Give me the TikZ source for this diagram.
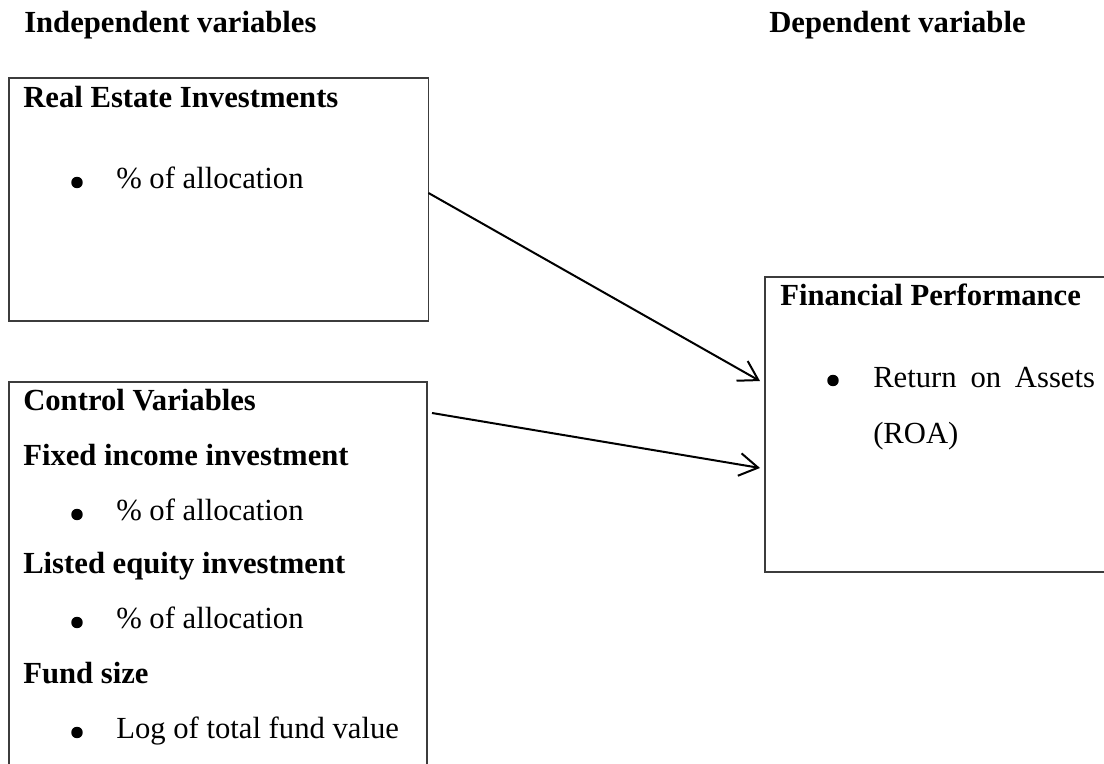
\documentclass[tikz,border=0pt]{standalone}
\usepackage{fontspec}
\setmainfont{Liberation Serif}
\usepackage{xcolor}
\usepackage{tikz}
\usetikzlibrary{arrows.meta, positioning}
\definecolor{framegray}{RGB}{60,60,60}

\begin{document}
\begin{tikzpicture}[
  x=0.75pt, y=-0.75pt,
  font=\fontsize{23}{28}\selectfont,
  box/.style={rectangle, draw=framegray, line width=1pt, anchor=north west,
              inner sep=0pt, outer sep=0pt},
  head/.style={anchor=base west, inner sep=0pt, font=\fontsize{23}{28}\selectfont\bfseries},
  txt/.style={anchor=base west, inner sep=0pt},
  dot/.style={circle, fill=black, inner sep=0pt, minimum size=8.6pt},
  arrow/.style={-{Straight Barb[length=14pt,width=17pt]}, line width=1.5pt, black}
]
\useasboundingbox (0,0) rectangle (1104,764);
\clip (0,0) rectangle (1104,764);

% column titles
\node[head] (indep) at (24,32) {Independent variables};
\node[head] (dep) at (769,32) {Dependent variable};

% boxes
\node[box, minimum width=314.6pt, minimum height=182.25pt] (re) at (9,78) {};
\node[box, minimum width=313.5pt, minimum height=313.5pt] (ctrl) at (9,382) {};
\node[box, minimum width=266.25pt, minimum height=221.25pt] (perf) at (765,277) {};

% real estate
\node[head] (reT) at (23,107) {Real Estate Investments};
\node[dot] (reB) at (77,182.5) {};
\node[txt] (reI) at (116,188) {\% of allocation};

% control variables
\node[head] (cvT) at (23,410) {Control Variables};
\node[head] (fiT) at (23,465) {Fixed income investment};
\node[dot] (fiB) at (77,514.5) {};
\node[txt] (fiI) at (116,520) {\% of allocation};
\node[head] (leT) at (23,573) {Listed equity investment};
\node[dot] (leB) at (77,622.5) {};
\node[txt] (leI) at (116,628) {\% of allocation};
\node[head] (fsT) at (23,683) {Fund size};
\node[dot] (fsB) at (77,732.5) {};
\node[txt] (fsI) at (116,738) {Log of total fund value};

% financial performance
\node[head] (fpT) at (780,305) {Financial Performance};
\node[dot] (fpB) at (833,380.5) {};
\node[txt] (fpI) at (873,387) {Return\hspace{0.45em}on\hspace{0.45em}Assets};
\node[txt] (fpI2) at (873,443) {(ROA)};

\draw[arrow] ([yshift=4.9pt]re.east) -- ([xshift=-3.75pt, yshift=32.6pt]perf.west);
\draw[arrow] ([xshift=3.75pt, yshift=-23.25pt]ctrl.north east) -- ([xshift=-3.75pt, yshift=-32.6pt]perf.west);

\end{tikzpicture}
\end{document}
